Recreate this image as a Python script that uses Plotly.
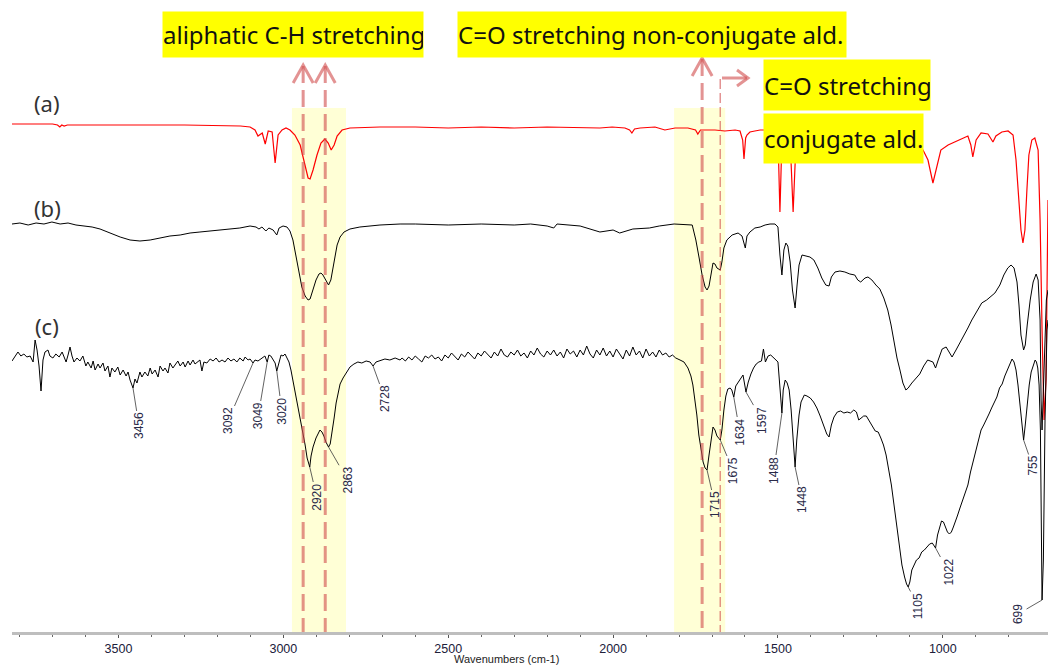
import numpy as np
import plotly.graph_objects as go

# ---------------------------------------------------------------------------
# Stacked FTIR spectra: wavenumber (cm-1) and offset signal (a.u., plotted on a
# downward axis so that absorption bands hang below each baseline)
# ---------------------------------------------------------------------------
a_wn = [3823, 3700, 3685, 3678, 3672, 3665, 3655, 3500, 3300, 3130, 3107, 3101, 3086, 3077,
        3064, 3055, 3046, 3034, 3025, 3016, 3004, 2992, 2980, 2965, 2949, 2937, 2925, 2919,
        2910, 2898, 2886, 2874, 2864, 2855, 2846, 2837, 2822, 2798, 2707, 2600, 2500, 2400,
        2300, 2200, 2100, 2040, 2003, 1964, 1950, 1943, 1935, 1918, 1873, 1843, 1812, 1773,
        1750, 1743, 1735, 1721, 1691, 1661, 1630, 1615, 1607, 1603, 1598, 1594, 1585, 1570,
        1554, 1524, 1500, 1494, 1488, 1476, 1463, 1454, 1445, 1418, 1282, 1130, 1084, 1060,
        1045, 1030, 1018, 1006, 984, 963, 942, 924, 915, 909, 899, 884, 863, 854, 848, 839,
        821, 802, 787, 778, 769, 763, 757, 751, 745, 739, 730, 721, 711, 705, 699, 693, 687, 681]
a_y = [124, 124, 125, 127, 125, 126, 125, 125, 125, 126, 127, 127, 130, 136,
       133, 144, 131, 132, 163, 135, 130, 128, 130, 135, 145, 162, 178, 179,
       170, 155, 143, 139, 143, 150, 145, 136, 130, 128, 127, 127, 128, 127,
       128, 127, 128, 128, 127, 128, 130, 133, 129, 128, 127, 130, 128, 128,
       130, 134, 130, 130, 130, 131, 130, 131, 140, 159, 138, 135, 132, 131,
       130, 130, 135, 212, 140, 135, 140, 212, 140, 135, 135, 138, 140, 150,
       160, 183, 165, 150, 145, 142, 139, 136, 145, 157, 140, 133, 134, 139, 142, 136,
       132, 131, 135, 160, 200, 230, 243, 230, 190, 155, 140, 138, 150, 220, 330, 420, 380, 200]

b_wn = [3823, 3799, 3774, 3750, 3726, 3702, 3677, 3653, 3629, 3605, 3580, 3556, 3526, 3495,
        3465, 3435, 3404, 3374, 3344, 3313, 3283, 3253, 3222, 3192, 3162, 3132, 3101, 3083,
        3074, 3065, 3053, 3044, 3031, 3020, 3013, 3001, 2989, 2980, 2971, 2962, 2953, 2944,
        2934, 2925, 2919, 2910, 2901, 2892, 2886, 2880, 2871, 2863, 2856, 2846, 2837, 2828,
        2816, 2798, 2768, 2707, 2646, 2600, 2500, 2400, 2300, 2250, 2200, 2180, 2170, 2100,
        2040, 2000, 1980, 1940, 1890, 1860, 1815, 1760, 1749, 1739, 1730, 1721, 1715, 1709,
        1703, 1697, 1691, 1685, 1675, 1670, 1664, 1655, 1639, 1621, 1609, 1599, 1594, 1585,
        1570, 1554, 1539, 1524, 1509, 1500, 1494, 1488, 1482, 1476, 1470, 1463, 1456, 1448,
        1442, 1436, 1427, 1415, 1403, 1391, 1379, 1367, 1355, 1345, 1338, 1327, 1312, 1297,
        1282, 1267, 1258, 1249, 1236, 1227, 1215, 1203, 1191, 1179, 1167, 1157, 1148, 1139,
        1130, 1121, 1112, 1105, 1094, 1082, 1070, 1058, 1046, 1030, 1022, 1014, 1002, 990,
        978, 972, 960, 948, 936, 924, 912, 897, 882, 867, 857, 842, 827, 815, 803, 793,
        784, 775, 769, 763, 755, 750, 744, 735, 726, 717, 711, 705, 702, 699, 694, 686, 681]
b_y = [224, 223, 225, 223, 224, 222, 224, 223, 225, 226, 227, 229, 233, 237,
       240, 241, 240, 238, 236, 235, 233, 232, 231, 230, 229, 228, 226, 227,
       229, 227, 231, 228, 230, 235, 228, 226, 227, 231, 240, 255, 272, 287,
       296, 300, 299, 290, 280, 274, 273, 275, 281, 285, 280, 260, 245, 237,
       232, 229, 227, 225, 224, 224, 225, 224, 225, 224, 226, 228, 224, 226,
       232, 230, 233, 229, 228, 226, 224, 225, 240, 258, 275, 287, 290, 286,
       275, 263, 264, 268, 270, 262, 248, 240, 235, 233, 236, 248, 236, 232,
       228, 227, 225, 224, 224, 227, 255, 275, 250, 243, 246, 262, 290, 308,
       285, 265, 255, 256, 257, 260, 268, 278, 285, 286, 277, 272, 271, 272,
       274, 275, 280, 282, 278, 277, 280, 285, 289, 298, 310, 325, 343, 358,
       370, 383, 390, 388, 383, 378, 374, 366, 360, 362, 368, 360, 349, 347,
       354, 357, 350, 343, 335, 328, 320, 311, 303, 300, 297, 293, 285, 275, 268, 265,
       268, 282, 305, 335, 350, 345, 325, 300, 282, 274, 280, 320, 400, 430, 380, 300, 290]

c_wn = [3823, 3814, 3805, 3796, 3787, 3778, 3768, 3759, 3753, 3747, 3741, 3735, 3729, 3723,
        3714, 3708, 3699, 3690, 3680, 3671, 3665, 3659, 3653, 3647, 3641, 3635, 3626, 3617,
        3608, 3599, 3593, 3583, 3577, 3571, 3562, 3556, 3547, 3541, 3532, 3526, 3520, 3511,
        3502, 3495, 3486, 3477, 3471, 3465, 3456, 3450, 3444, 3435, 3429, 3420, 3411, 3404,
        3398, 3389, 3380, 3374, 3365, 3359, 3350, 3344, 3335, 3329, 3320, 3313, 3304, 3298,
        3289, 3283, 3274, 3268, 3259, 3253, 3247, 3241, 3232, 3222, 3213, 3204, 3195, 3186,
        3177, 3168, 3159, 3150, 3141, 3132, 3122, 3116, 3107, 3101, 3092, 3086, 3077, 3068,
        3062, 3056, 3049, 3044, 3038, 3031, 3025, 3020, 3013, 3007, 3001, 2995, 2989, 2983,
        2977, 2968, 2959, 2950, 2944, 2934, 2928, 2920, 2916, 2910, 2901, 2895, 2889, 2883,
        2877, 2871, 2863, 2858, 2852, 2846, 2840, 2834, 2828, 2819, 2810, 2798, 2786, 2774,
        2762, 2749, 2737, 2728, 2719, 2707, 2692, 2677, 2661, 2646,
        2640, 2630, 2620, 2610, 2600, 2590, 2580, 2570, 2560, 2550, 2540, 2530, 2520, 2510,
        2500, 2490, 2480, 2470, 2460, 2450, 2440, 2430, 2420, 2410, 2400, 2390, 2380, 2370,
        2360, 2350, 2340, 2330, 2320, 2310, 2300, 2290, 2280, 2270, 2260, 2250, 2240, 2230,
        2220, 2210, 2200, 2190, 2180, 2170, 2160, 2150, 2140, 2130, 2120, 2110, 2100, 2090,
        2080, 2070, 2060, 2050, 2040, 2030, 2020, 2010, 2000, 1990, 1980, 1970, 1960, 1950,
        1940, 1930, 1920, 1910, 1900, 1890, 1880, 1870, 1860, 1850, 1840, 1830, 1820, 1810,
        1797, 1785, 1773, 1764, 1758, 1752, 1746, 1740, 1734, 1727, 1721, 1715, 1709, 1703,
        1697, 1691, 1685, 1675, 1670, 1664, 1658, 1652, 1645, 1640, 1634, 1628, 1620, 1612,
        1606, 1597, 1590, 1582, 1574, 1566, 1558, 1550, 1544, 1538, 1530, 1522, 1514, 1506,
        1500, 1494, 1488, 1484, 1478, 1472, 1466, 1460, 1454, 1448, 1443, 1436, 1430, 1420,
        1412, 1402, 1392, 1382, 1372, 1362, 1352, 1345, 1338, 1330, 1320, 1310, 1300, 1290,
        1280, 1270, 1262, 1255, 1248, 1240, 1232, 1224, 1214, 1205, 1196, 1188, 1180, 1172,
        1164, 1156, 1148, 1140, 1132, 1124, 1116, 1110, 1105, 1100, 1094, 1088, 1080, 1072,
        1064, 1056, 1048, 1040, 1032, 1027, 1022, 1016, 1010, 1004, 998, 992, 986, 980,
        974, 968, 962, 956, 948, 940, 932, 924, 916, 908, 900, 892, 884, 876,
        868, 860, 852, 844, 836, 828, 820, 812, 804, 797, 790, 784, 778, 772,
        766, 760, 755, 750, 744, 738, 732, 726, 720, 716, 712, 708, 704, 702,
        699, 695, 690, 684, 681]
c_y = [361, 357, 352, 356, 354, 357, 356, 362, 340, 350, 366, 391, 360, 352,
       350, 356, 358, 354, 357, 352, 358, 362, 355, 347, 356, 362, 358, 361,
       356, 366, 362, 368, 361, 370, 364, 368, 363, 371, 366, 377, 368, 372,
       367, 375, 370, 376, 372, 380, 388, 379, 383, 372, 377, 372, 376, 368,
       374, 370, 377, 366, 371, 368, 373, 363, 368, 365, 361, 366, 362, 367,
       361, 365, 360, 364, 361, 360, 371, 362, 363, 359, 361, 358, 362, 360,
       362, 358, 361, 359, 362, 358, 361, 357, 360, 359, 363, 360, 361, 359,
       357, 356, 362, 355, 356, 360, 363, 371, 362, 355, 356, 354, 358, 362,
       370, 385, 400, 415, 428, 445, 458, 467, 456, 447, 438, 433, 430, 432,
       436, 442, 447, 444, 433, 418, 403, 392, 384, 378, 373, 367, 364, 362,
       363, 361, 362, 366, 362, 361, 359, 360, 358, 360,
       358, 361, 357, 360, 356, 359, 362, 356, 358, 355, 359, 357, 361, 355,
       358, 353, 357, 360, 354, 357, 352, 356, 359, 353, 356, 351, 355, 358,
       352, 356, 349, 355, 357, 352, 355, 350, 356, 353, 358, 351, 355, 348,
       354, 357, 351, 355, 350, 356, 352, 358, 349, 354, 351, 357, 350, 355,
       346, 354, 358, 350, 355, 348, 356, 351, 357, 349, 354, 359, 350, 356,
       347, 355, 351, 358, 349, 356, 352, 357, 350, 355, 353, 357, 355, 358,
       360, 362, 368, 376, 385, 398, 415, 435, 450, 462, 468, 470, 455, 440,
       427, 430, 436, 440, 430, 410, 396, 389, 388, 390, 397, 386, 382, 378,
       375, 392, 382, 374, 368, 364, 362, 361, 349, 362, 356, 355, 358, 360,
       362, 385, 413, 390, 380, 383, 390, 410, 440, 467, 440, 415, 402, 395,
       396, 398, 402, 408, 416, 426, 434, 437, 425, 417, 412, 411, 413, 412,
       413, 410, 412, 420, 418, 416, 416, 420, 426, 431, 432, 438, 445, 455,
       470, 485, 505, 527, 548, 565, 577, 584, 587, 582, 570, 566, 560, 558,
       552, 550, 547, 544, 543, 545, 548, 535, 527, 521, 522, 528, 532, 534,
       532, 527, 522, 516, 508, 500, 492, 485, 472, 462, 450, 440, 430, 425,
       420, 414, 408, 403, 397, 388, 384, 376, 370, 364, 359, 362, 370, 385,
       405, 425, 440, 425, 402, 385, 372, 365, 360, 362, 368, 385, 430, 500,
       600, 560, 420, 330, 320]

# Peak positions annotated on spectrum (c)
peak_wn = [3456, 3092, 3049, 3020, 2920, 2863, 2728, 1715, 1675, 1634, 1597,
           1488, 1448, 1105, 1022, 755, 699]
# label offsets (px) of each peak label relative to its peak
peak_dx = [6, -25, -9, 5, 7, 19, 12, 8, 13, 6, 16, -8, 7, 10, 13, 9, -24]
peak_dy = [38, 58, 54, 40, 30, 33, 33, 35, 31, 35, 28, 57, 33, 19, 24, 26, 14]

x_ticks = [3500, 3000, 2500, 2000, 1500, 1000]

# highlighted band regions and marker wavenumbers
ch_band = (2974, 2810)
co_band = (1815, 1660)
ch_marks = [2940, 2873]
co_mark = 1730
conj_mark = 1675

X_LEFT, X_RIGHT = 3823, 681
PLOT_W = 1036
PXW = (X_LEFT - X_RIGHT) / PLOT_W   # cm-1 per pixel


def wx(px):
    """horizontal page position -> wavenumber on the x axis"""
    return X_LEFT - (px - 12) * PXW


def xp(px):
    return (px - 12) / PLOT_W


def yp(py):
    return (632 - py) / 632


fig = go.Figure()
fig.add_trace(go.Scatter(x=a_wn, y=a_y, mode="lines", name="(a)",
                         line=dict(color="#FF0000", width=1.2)))
fig.add_trace(go.Scatter(x=b_wn, y=b_y, mode="lines", name="(b)",
                         line=dict(color="#000000", width=1)))
fig.add_trace(go.Scatter(x=c_wn, y=c_y, mode="lines", name="(c)",
                         line=dict(color="#000000", width=1)))

shapes = []
# pale yellow highlight bands
for lo, hi in (ch_band, co_band):
    shapes.append(dict(type="rect", xref="x", yref="y", x0=lo, x1=hi, y0=108, y1=632,
                       fillcolor="#FFFFD6", line=dict(width=0), layer="below"))

DASH_COLOR = "rgba(210,80,80,0.62)"
# bold dashed markers with upward open arrowheads
for wn, top in ((ch_marks[0], 65), (ch_marks[1], 65), (co_mark, 58)):
    shapes.append(dict(type="line", xref="x", yref="y", x0=wn, x1=wn, y0=top + 1, y1=632,
                       line=dict(color=DASH_COLOR, width=3, dash="17px,7px"), layer="above"))
    shapes.append(dict(type="path", xref="x", yref="y",
                       path=f"M {wn + 10 * PXW},{top + 18} L {wn},{top} L {wn - 10 * PXW},{top + 18}",
                       line=dict(color=DASH_COLOR, width=3), layer="above"))
# thin dashed marker for the conjugated carbonyl with a rightward arrow
shapes.append(dict(type="line", xref="x", yref="y", x0=conj_mark, x1=conj_mark, y0=79, y1=632,
                   line=dict(color=DASH_COLOR, width=1.5, dash="10px,4px"), layer="above"))
shapes.append(dict(type="line", xref="x", yref="y", x0=wx(722), x1=wx(747), y0=78, y1=78,
                   line=dict(color=DASH_COLOR, width=3), layer="above"))
shapes.append(dict(type="path", xref="x", yref="y",
                   path=f"M {wx(737)},{70} L {wx(748)},{78} L {wx(737)},{86}",
                   line=dict(color=DASH_COLOR, width=3), layer="above"))

annotations = []
LABEL_FONT = "Noto Sans, Open Sans, DejaVu Sans"
# highlighted assignment labels
for text, cx, cy, w, h in (("aliphatic C-H stretching", 293, 34.5, 260, 45),
                           ("C=O stretching non-conjugate ald.", 652, 34.5, 388, 45),
                           ("C=O stretching", 847, 85, 166, 50),
                           ("conjugate ald.", 843.5, 138.5, 159, 49)):
    annotations.append(dict(text=text, xref="paper", yref="paper", x=xp(cx), y=yp(cy),
                            xanchor="center", yanchor="middle", showarrow=False,
                            width=w, height=h, borderpad=0, bgcolor="#FFFF00",
                            align="left", valign="middle",
                            font=dict(family=LABEL_FONT, size=24, color="#111111")))

# spectrum letters
for text, cy in (("(a)", 103), ("(b)", 208), ("(c)", 326)):
    annotations.append(dict(text=text, xref="paper", yref="paper", x=xp(47), y=yp(cy),
                            xanchor="center", yanchor="middle", showarrow=False,
                            font=dict(family=LABEL_FONT, size=22, color="#333333")))

# peak labels with leader lines on spectrum (c)
c_order = np.argsort(c_wn)
c_wn_sorted = np.asarray(c_wn, dtype=float)[c_order]
c_y_sorted = np.asarray(c_y, dtype=float)[c_order]
for wn, dx, dy in zip(peak_wn, peak_dx, peak_dy):
    yv = float(np.interp(wn, c_wn_sorted, c_y_sorted))
    annotations.append(dict(text=str(wn), x=wn, y=yv, xref="x", yref="y",
                            showarrow=True, arrowhead=0, arrowwidth=0.8, arrowcolor="#3a3a3a",
                            ax=dx, ay=dy, textangle=-90, standoff=0,
                            font=dict(family="Liberation Sans, Arial", size=12, color="#2a2a48")))

# axis title
annotations.append(dict(text="Wavenumbers (cm-1)", xref="paper", yref="paper",
                        x=xp(506), y=yp(659), xanchor="center", yanchor="middle",
                        showarrow=False,
                        font=dict(family="Liberation Sans, Arial", size=11, color="#222222")))

fig.update_layout(width=1048, height=671, margin=dict(l=12, r=0, t=0, b=39),
                  paper_bgcolor="white", plot_bgcolor="white", showlegend=False,
                  shapes=shapes, annotations=annotations)
fig.update_xaxes(range=[X_LEFT, X_RIGHT], showline=True, linecolor="#BEBEBE", linewidth=3,
                 showgrid=False, zeroline=False, tickmode="array", tickvals=x_ticks,
                 ticktext=[str(t) for t in x_ticks], ticks="outside", ticklen=3,
                 tickcolor="#555555", tickwidth=1,
                 tickfont=dict(family="Liberation Sans, Arial", size=12.5, color="#20203a"),
                 minor=dict(tickvals=list(range(3800, 700, -100)), ticks="outside",
                            ticklen=2, tickcolor="#666666"))
fig.update_yaxes(range=[632, 0], visible=False, showgrid=False, zeroline=False)

fig.write_html("out.html")
